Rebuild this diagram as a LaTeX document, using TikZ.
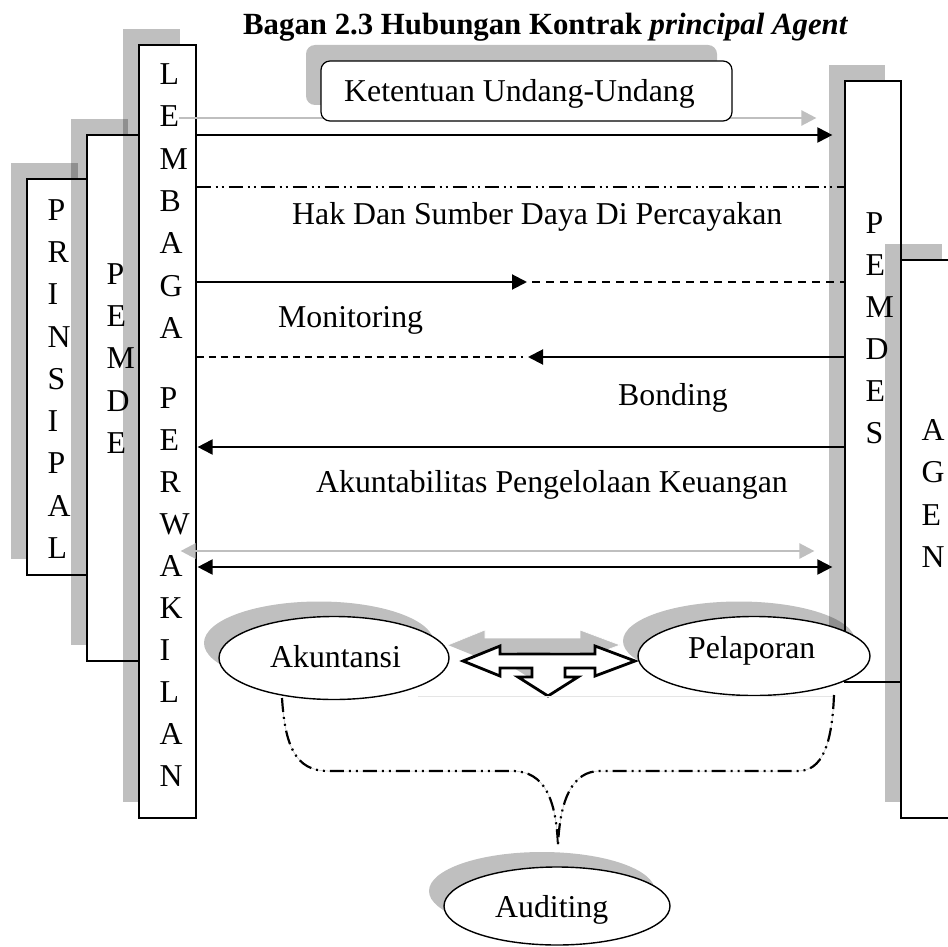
\documentclass[tikz,border=0pt]{standalone}
\usepackage{fontspec}
\setmainfont{Liberation Serif}
\usetikzlibrary{arrows.meta,shapes.geometric,shadows}
\newcommand\bfont{\fontsize{31.8pt}{38pt}\selectfont}
\newcommand\tfont{\fontsize{30.8pt}{37pt}\selectfont\bfseries}
\begin{document}
\begin{tikzpicture}[x=1pt,y=-1pt,
  shad/.style={drop shadow={shadow xshift=-16pt,shadow yshift=16pt,fill=black,opacity=0.25,draw=none}},
  colbox/.style={rectangle,draw=black,line width=1.2pt,fill=white,inner sep=0pt,shad},
  letter/.style={anchor=west,inner sep=0pt,font=\bfont},
  lbl/.style={anchor=base west,inner sep=0pt,font=\bfont},
  oval/.style={ellipse,draw=black,line width=1.4pt,fill=white,inner sep=0pt,
    drop shadow={shadow xshift=-15pt,shadow yshift=15pt,fill=black,opacity=0.25,draw=none}},
  tipk/.style={-{Triangle[length=15pt,width=15pt]}},
  blk/.style={draw=black,line width=2pt},
  grayln/.style={draw=black!25,line width=2.5pt},
  dashdd/.style={draw=black,line width=1.2pt,dash pattern=on 14pt off 5pt on 2pt off 4pt on 2pt off 5pt},
  brace/.style={draw=black,line width=2.2pt,dash pattern=on 14pt off 5pt on 2pt off 5pt on 2pt off 5pt,
    preaction={draw=black!25,line width=0.5pt,solid}}
]
\useasboundingbox (0,0) rectangle (948,947);
\clip (0,0) rectangle (948,947);

% title
\node[anchor=base west,inner sep=0pt,font=\tfont] (title) at (243,35)
  {Bagan 2.3 Hubungan Kontrak \textit{principal Agent}};

% PRINSIPAL
\node[colbox,minimum width=67pt,minimum height=396pt] (prin) at (60.5,377) {};
\foreach \c [count=\i] in {P,R,I,N,S,I,P,A,L}
  \node[letter] (prin-\i) at (47.5,{210+42.25*(\i-1)}) {\c};

% PEMDE
\node[colbox,minimum width=57pt,minimum height=526pt] (pemde) at (115.5,398) {};
\foreach \c [count=\i] in {P,E,M,D,E}
  \node[letter] (pemde-\i) at (106.5,{274+42.25*(\i-1)}) {\c};

% LEMBAGA PERWAKILAN
\node[colbox,minimum width=57pt,minimum height=773pt] (lem) at (167.5,431.5) {};
\foreach \c [count=\i] in {L,E,M,B,A,G,A}
  \node[letter] (lema-\i) at (159.5,{74+42.33*(\i-1)}) {\c};
\foreach \c [count=\i] in {P,E,R,W,A,K,I,L,A,N}
  \node[letter] (lemb-\i) at (159.5,{398+42*(\i-1)}) {\c};

% PEMDES
\node[colbox,minimum width=56pt,minimum height=601pt] (pemdes) at (873,381.5) {};
\foreach \c [count=\i] in {P,E,M,D,E,S}
  \node[letter] (pemdes-\i) at (865.5,{223+42*(\i-1)}) {\c};

% AGEN
\node[colbox,minimum width=57pt,minimum height=558pt] (agen) at (929.5,539) {};
\foreach \c [count=\i] in {A,G,E,N}
  \node[letter] (agen-\i) at (921.5,{430+42.3*(\i-1)}) {\c};

% connectors
\draw[grayln,-{Triangle[length=15pt,width=15pt]}] ([xshift=-18pt]lem.east |- 0,118) -- ([xshift=-28pt]pemdes.west |- 0,118);
\draw[blk,tipk] (lem.east |- 0,135) -- ([xshift=-12pt]pemdes.west |- 0,135);
\draw[dashdd] (lem.east |- 0,187) -- (pemdes.west |- 0,187);

\coordinate (mon1) at (527,282);
\coordinate (mon2) at (532,282);
\draw[blk,tipk] (lem.east |- 0,282) -- (mon1);
\draw[draw=black,line width=1.5pt,dash pattern=on 8pt off 6pt] (mon2) -- (pemdes.west |- 0,282);

\coordinate (bon1) at (528,357);
\coordinate (bon2) at (523,357);
\draw[blk,tipk] (pemdes.west |- 0,357) -- (bon1);
\draw[draw=black,line width=1.1pt,dash pattern=on 7pt off 5pt] (lem.east |- 0,357) -- (bon2);

\draw[blk,tipk] (pemdes.west |- 0,447) -- ([xshift=1pt]lem.east |- 0,447);

\draw[grayln,{Triangle[length=15pt,width=15pt]}-{Triangle[length=15pt,width=15pt]}]
  ([xshift=-16pt]lem.east |- 0,551) -- ([xshift=-30pt]pemdes.west |- 0,551);
\draw[blk,{Triangle[length=15pt,width=15pt]}-{Triangle[length=15pt,width=15pt]}]
  ([xshift=1pt]lem.east |- 0,567) -- ([xshift=-12pt]pemdes.west |- 0,567);

% Ketentuan box
\node[rectangle,draw=black,line width=1.2pt,fill=white,rounded corners=9pt,inner sep=0pt,
  minimum width=411pt,minimum height=60pt,
  drop shadow={shadow xshift=-15pt,shadow yshift=16pt,fill=black,opacity=0.25,draw=none}] (ket) at (526.5,91) {};
\node[lbl] (kettext) at (344,102) {Ketentuan Undang-Undang};

% labels
\node[lbl] (hak) at (292,224) {Hak Dan Sumber Daya Di Percayakan};
\node[lbl] (moni) at (278,327) {Monitoring};
\node[lbl] (bond) at (618,405) {Bonding};
\node[lbl] (akunt) at (316,492) {Akuntabilitas Pengelolaan Keuangan};

% ellipses
\node[oval,minimum width=230pt,minimum height=83pt] (akun) at (334,658) {};
\node[lbl] (akuntext) at (270,667) {Akuntansi};
\node[oval,minimum width=232pt,minimum height=79pt] (pel) at (754,656) {};
\node[lbl] (peltext) at (688,658) {Pelaporan};
\node[oval,minimum width=226pt,minimum height=78pt] (aud) at (557,906) {};
\node[lbl] (audtext) at (495,917) {Auditing};

% three-way arrow
\begin{scope}[shift={(-15,-16)}]
  \fill[black,fill opacity=0.25] (463,661) -- (500,646) -- (500,654) -- (595,654) -- (595,646) -- (635,661)
    -- (595,676) -- (595,668) -- (565,668) -- (565,677) -- (578,677) -- (548,696) -- (518,677)
    -- (532,677) -- (532,668) -- (500,668) -- (500,676) -- cycle;
  \draw[white,line width=0.6pt] (463,661) -- (500,646) -- (500,654) -- (595,654) -- (595,646) -- (635,661)
    -- (595,676);
\end{scope}
\draw[black,line width=2.8pt,fill=white,line join=miter,miter limit=10]
  (463,661) -- (500,646) -- (500,654) -- (595,654) -- (595,646) -- (635,661)
  -- (595,676) -- (595,668) -- (565,668) -- (565,677) -- (578,677) -- (548,696) -- (518,677)
  -- (532,677) -- (532,668) -- (500,668) -- (500,676) -- cycle;

% faint line
\coordinate (fl1) at (418,696);
\coordinate (fl2) at (834,696);
\draw[black!10,line width=0.8pt] (fl1) -- (fl2);

% brace to auditing
\coordinate (bl) at (282,698);
\coordinate (br) at (834,695);
\coordinate (btip) at (558,845);
\path[brace] (bl) .. controls (285,745) and (295,771) .. (328,771) -- (512,771)
  .. controls (545,771) and (556,800) .. (btip);
\path[brace] (br) .. controls (832,745) and (822,771) .. (798,771) -- (600,771)
  .. controls (572,771) and (560,800) .. (btip);
\end{tikzpicture}
\end{document}
